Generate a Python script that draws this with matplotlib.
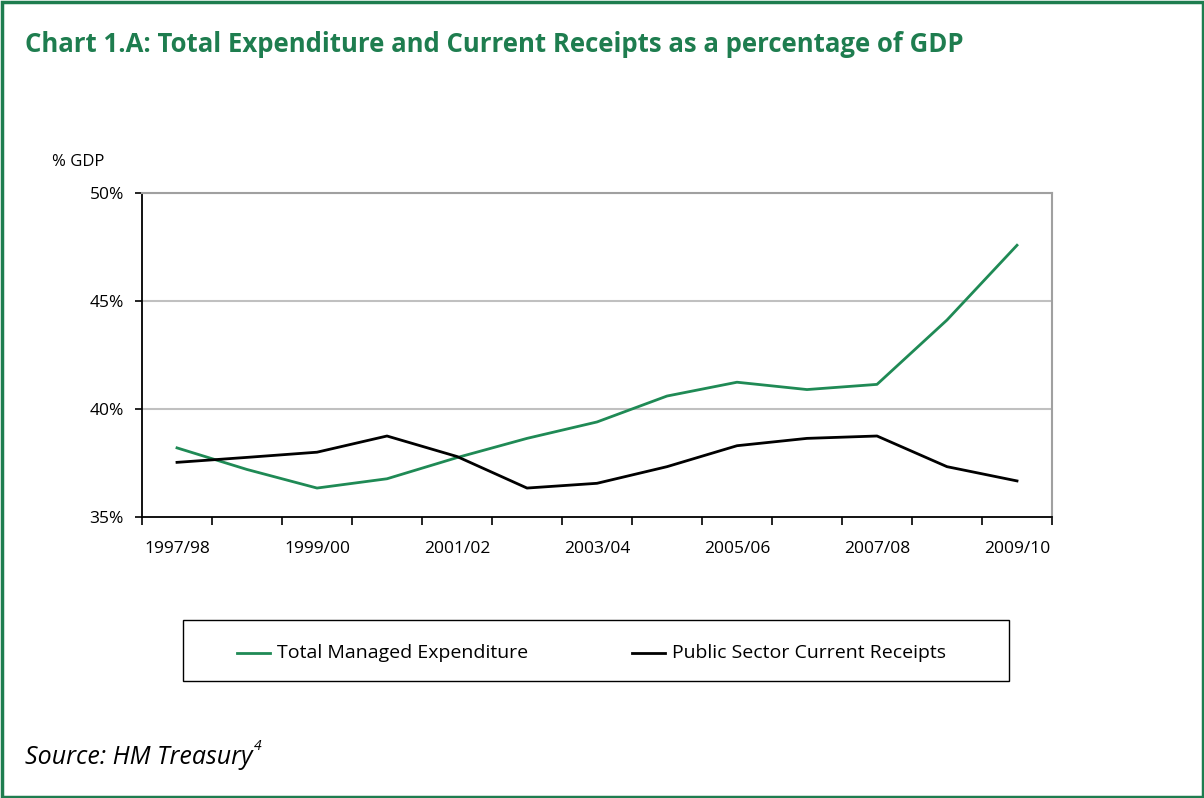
import matplotlib
matplotlib.use("Agg")
import matplotlib.pyplot as plt
from matplotlib.patches import Rectangle
from matplotlib.lines import Line2D

categories = ["1997/98", "1998/99", "1999/00", "2000/01", "2001/02", "2002/03", "2003/04",
              "2004/05", "2005/06", "2006/07", "2007/08", "2008/09", "2009/10"]
tme = [38.2, 37.2, 36.34, 36.77, 37.75, 38.64, 39.4, 40.6, 41.24, 40.9, 41.14, 44.12, 47.58]
pscr = [37.53, 37.76, 38.0, 38.75, 37.8, 36.34, 36.56, 37.33, 38.3, 38.64, 38.75, 37.33, 36.67]
yticks = [35, 40, 45, 50]
series_names = ["Total Managed Expenditure", "Public Sector Current Receipts"]

GREEN = "#1e7d4f"
LINE_GREEN = "#1f8a55"
FONT = "Open Sans"

W, H = 1204, 798
fig = plt.figure(figsize=(W / 100, H / 100), dpi=100)

# outer border
fig.patches.append(Rectangle((1.5 / W, 1.5 / H), 1 - 3 / W, 1 - 3 / H, transform=fig.transFigure,
                             fill=False, edgecolor=GREEN, linewidth=2.5))

fig.text(25 / W, 1 - 45 / H, "Chart 1.A: Total Expenditure and Current Receipts as a percentage of GDP",
         color=GREEN, fontsize=18.5, fontweight="bold", family=FONT, va="center", ha="left")

ax = fig.add_axes([142 / W, 1 - 517 / H, (1052 - 142) / W, (517 - 193) / H])
x = list(range(len(categories)))
ax.plot(x, tme, color=LINE_GREEN, linewidth=2, label=series_names[0])
ax.plot(x, pscr, color="black", linewidth=2, label=series_names[1])

ax.set_xlim(-0.5, len(categories) - 0.5)
ax.set_ylim(35, 50)
ax.set_yticks(yticks)
ax.set_yticklabels([f"{v}%" for v in yticks], family=FONT, fontsize=12.5)
for v in yticks[1:]:
    ax.axhline(v, color="#c0c0c0", linewidth=1.5, zorder=0)

ax.set_xticks(x[::2])
ax.set_xticklabels(categories[::2], family=FONT, fontsize=12.5)
ax.set_xticks([i - 0.5 for i in range(len(categories) + 1)], minor=True)
ax.tick_params(axis="x", which="major", length=0, pad=17)
ax.tick_params(axis="x", which="minor", length=6, width=1.2, direction="out")
ax.tick_params(axis="y", length=5, width=1.2, direction="out", pad=8)

for s in ["left", "bottom"]:
    ax.spines[s].set_color("black")
    ax.spines[s].set_linewidth(1.3)
for s in ["top", "right"]:
    ax.spines[s].set_color("#a0a0a0")
    ax.spines[s].set_linewidth(1.5)

fig.text(52 / W, 1 - 162 / H, "% GDP", family=FONT, fontsize=12, va="center", ha="left")

# legend box
fig.patches.append(Rectangle((183 / W, 1 - 681 / H), (1009 - 183) / W, (681 - 620) / H,
                             transform=fig.transFigure, fill=False, edgecolor="black", linewidth=1))
ly = 1 - 653 / H
fig.lines.append(Line2D([237 / W, 270 / W], [ly, ly], transform=fig.transFigure, color=LINE_GREEN, linewidth=2))
fig.text(277 / W, ly, series_names[0], family=FONT, fontsize=14, va="center", ha="left")
fig.lines.append(Line2D([632 / W, 665 / W], [ly, ly], transform=fig.transFigure, color="black", linewidth=2))
fig.text(672 / W, ly, series_names[1], family=FONT, fontsize=14, va="center", ha="left")

t = fig.text(25 / W, 1 - 758 / H, "Source: HM Treasury", family=FONT, fontsize=18, style="italic",
             va="center", ha="left")
fig.canvas.draw()
bb = t.get_window_extent()
fig.text(bb.x1 / W + 1 / W, 1 - 746 / H, "4", family=FONT, fontsize=10, style="italic",
         va="center", ha="left")

fig.savefig("out.png", dpi=100)
